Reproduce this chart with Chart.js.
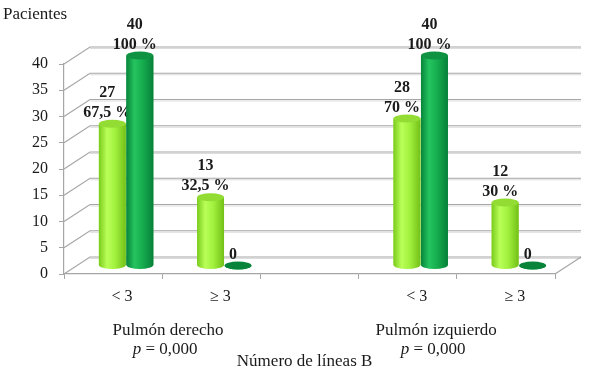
<!DOCTYPE html>
<html>
<head>
<meta charset="utf-8">
<script src="https://cdn.jsdelivr.net/npm/chart.js@4.4.1/dist/chart.umd.min.js"></script>
<style>
  body { margin: 0; background: #fff; }
  canvas { display: block; }
</style>
</head>
<body>
<canvas id="grafico" width="589" height="380"></canvas>
<script>
// Datos del gráfico
const categorias = ['< 3', '≥ 3', '', '< 3', '≥ 3'];
const serieClara = [27, 13, null, 28, 12];
const serieOscura = [40, 0, null, 40, 0];
const totalPacientes = 40;
const grupos = ['Pulmón derecho', 'Pulmón izquierdo'];
const valorP = '0,000';

const SERIF = '"Liberation Serif", "Times New Roman", serif';
const DX = 26, DY = -17; // profundidad del efecto 3D

// pared del fondo + cilindros + etiquetas
const efecto3D = {
    id: 'efecto3D',
    beforeDatasetsDraw(chart) {
        const { ctx, chartArea: a, scales: { y } } = chart;
        ctx.save();
        ctx.lineWidth = 1.2;
        for (let v = 0; v <= 40; v += 5) {
            const py = y.getPixelForValue(v);
            ctx.strokeStyle = '#dcdcdc';
            ctx.beginPath();
            ctx.moveTo(a.left + DX, py + DY + 1.5);
            ctx.lineTo(a.right + DX, py + DY + 1.5);
            ctx.stroke();
            ctx.strokeStyle = '#a6a6a6';
            ctx.beginPath();
            ctx.moveTo(a.left, py);
            ctx.lineTo(a.left + DX, py + DY);
            ctx.lineTo(a.right + DX, py + DY);
            ctx.stroke();
        }
        ctx.beginPath();
        ctx.moveTo(a.right, a.bottom);
        ctx.lineTo(a.right + DX, a.bottom + DY);
        ctx.stroke();
        ctx.restore();
        ctx.save();
        ctx.translate(DX / 2, DY / 2);
    },
    afterDatasetsDraw(chart) {
        const { ctx } = chart;
        const estilos = [
            { stops: ['#7acb1c', '#b9ff58', '#a2f13e', '#73c018'], tapa: '#93dc34' },
            { stops: ['#08843a', '#25c460', '#16ad4e', '#07803a'], tapa: '#0f9343' }
        ];
        chart.data.datasets.forEach((ds, di) => {
            const meta = chart.getDatasetMeta(di);
            const est = estilos[di];
            meta.data.forEach((bar, i) => {
                if (ds.data[i] === null) return;
                const { x, y, base, width } = bar.getProps(['x', 'y', 'base', 'width'], true);
                const l = x - width / 2, r = x + width / 2, ry = width * 0.15;
                const g = ctx.createLinearGradient(l, 0, r, 0);
                g.addColorStop(0, est.stops[0]);
                g.addColorStop(0.3, est.stops[1]);
                g.addColorStop(0.6, est.stops[2]);
                g.addColorStop(1, est.stops[3]);
                ctx.fillStyle = g;
                ctx.beginPath();
                ctx.moveTo(l, y);
                ctx.lineTo(l, base);
                ctx.ellipse(x, base, width / 2, ry, 0, Math.PI, 0, true);
                ctx.lineTo(r, y);
                ctx.closePath();
                ctx.fill();
                ctx.fillStyle = ds.data[i] === 0 ? est.stops[0] : est.tapa;
                ctx.beginPath();
                ctx.ellipse(x, y, width / 2, ry, 0, 0, Math.PI * 2);
                ctx.fill();

                // etiquetas de valor
                const v = ds.data[i];
                const lineas = [String(v)];
                if (v > 0) lineas.push(String(+(v / totalPacientes * 100).toFixed(1)).replace('.', ',') + ' %');
                ctx.fillStyle = '#1a1a1a';
                ctx.font = 'bold 16px ' + SERIF;
                ctx.textAlign = 'center';
                ctx.textBaseline = 'middle';
                let ly = y - ry - 7;
                for (let k = lineas.length - 1; k >= 0; k--) {
                    ctx.fillText(lineas[k], x - 5, ly);
                    ly -= 20;
                }
            });
        });
        ctx.restore();
    },
    afterDraw(chart) {
        const { ctx, scales: { x } } = chart;
        ctx.save();
        ctx.fillStyle = '#1a1a1a';
        ctx.textBaseline = 'middle';
        ctx.textAlign = 'left';
        ctx.font = '17px ' + SERIF;
        ctx.fillText('Pacientes', 3, 15);

        const posiciones = [0.56, 3.29];
        grupos.forEach((g, k) => {
            const cx = x.getPixelForValue(posiciones[k]);
            ctx.font = '17px ' + SERIF;
            ctx.textAlign = 'center';
            ctx.fillText(g, cx, 331);
            ctx.font = 'italic 17px ' + SERIF;
            const wp = ctx.measureText('p').width;
            ctx.font = '17px ' + SERIF;
            const resto = ' = ' + valorP;
            const wr = ctx.measureText(resto).width;
            const x0 = cx - 3 - (wp + wr) / 2;
            ctx.textAlign = 'left';
            ctx.font = 'italic 17px ' + SERIF;
            ctx.fillText('p', x0, 350);
            ctx.font = '17px ' + SERIF;
            ctx.fillText(resto, x0 + wp, 350);
        });
        ctx.textAlign = 'center';
        ctx.fillText('Número de líneas B', x.getPixelForValue(1.95), 362);
        ctx.restore();
    }
};

new Chart(document.getElementById('grafico'), {
    type: 'bar',
    data: {
        labels: categorias,
        datasets: [
            { label: 'Serie 1', data: serieClara, backgroundColor: '#9be93a', borderWidth: 0 },
            { label: 'Serie 2', data: serieOscura, backgroundColor: '#14a84a', borderWidth: 0 }
        ]
    },
    options: {
        responsive: false,
        animation: false,
        devicePixelRatio: 1,
        layout: { padding: { top: 64, right: 34, bottom: 0, left: 0 } },
        datasets: { bar: { categoryPercentage: 0.56, barPercentage: 0.98 } },
        plugins: { legend: { display: false }, tooltip: { enabled: false } },
        scales: {
            x: {
                afterFit: s => { s.height = 106; },
                grid: { drawOnChartArea: false, tickLength: 5, color: '#a6a6a6' },
                border: { color: '#a6a6a6', width: 1.2 },
                ticks: { color: '#1a1a1a', font: { family: SERIF, size: 16 }, padding: 8, labelOffset: 9 }
            },
            y: {
                min: 0, max: 40,
                afterFit: s => { s.width = 64; },
                grid: { drawOnChartArea: false, tickLength: 5, color: '#a6a6a6' },
                border: { color: '#a6a6a6', width: 1.2 },
                ticks: { stepSize: 5, color: '#1a1a1a', font: { family: SERIF, size: 16 }, padding: 11 }
            }
        }
    },
    plugins: [efecto3D]
});
</script>
</body>
</html>
